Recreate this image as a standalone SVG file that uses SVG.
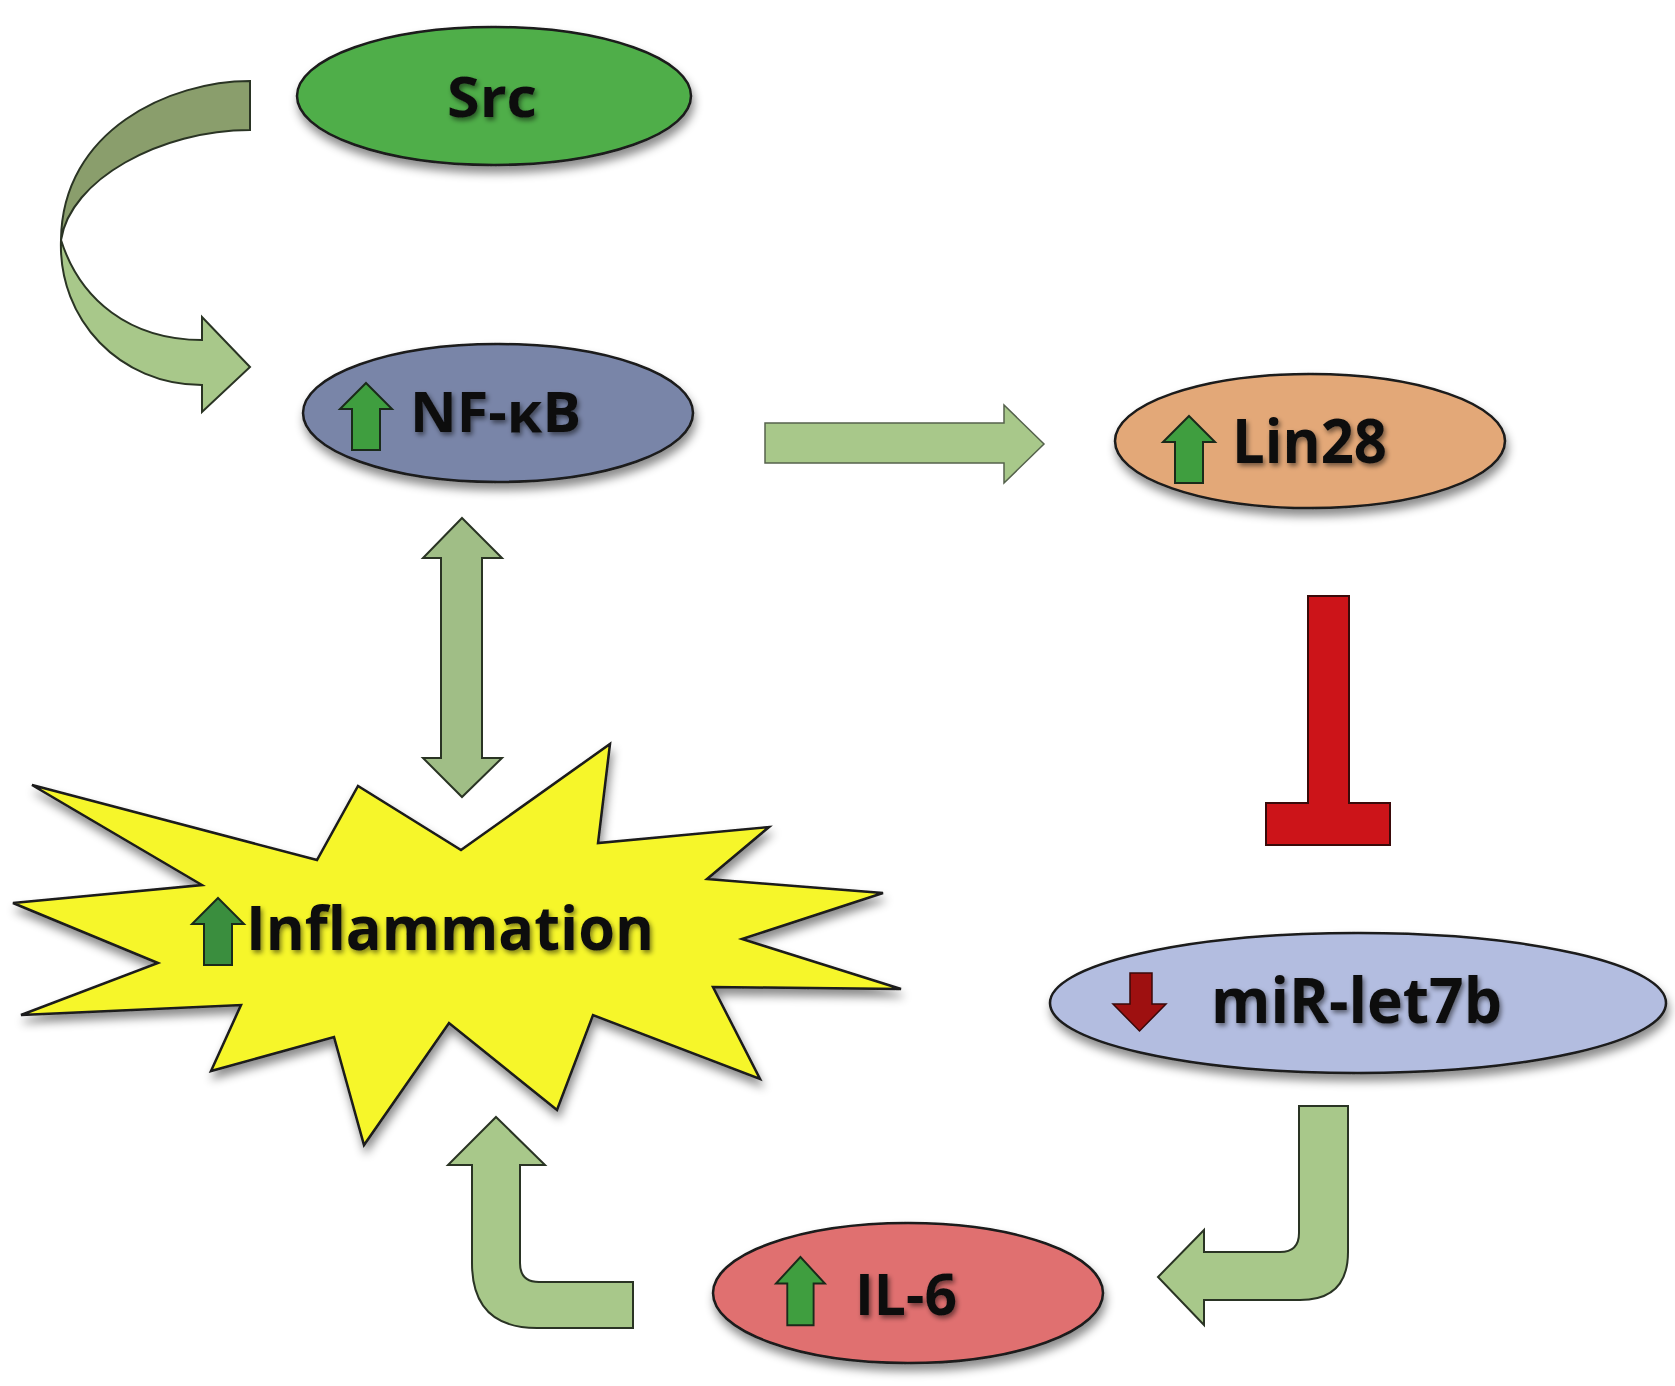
<svg xmlns="http://www.w3.org/2000/svg" xmlns:xlink="http://www.w3.org/1999/xlink" width="1675" height="1386" viewBox="0 0 1675 1386">
<defs>
<style>
.node{stroke:#1a1a1a;stroke-width:2.5}
.lbl{font-family:"Open Sans","Liberation Sans",sans-serif;font-weight:700;fill:#111}
.conn{fill:#a8c88a;stroke:#2a3424;stroke-width:2;stroke-linejoin:miter}
.up{fill:#3f9e3f;stroke:#1a2a1a;stroke-width:2}
</style>
<filter id="sh" x="-20%" y="-20%" width="140%" height="160%">
<feDropShadow dx="2" dy="7" stdDeviation="5" flood-color="#000" flood-opacity="0.45"/>
</filter>
<filter id="ts" x="-10%" y="-20%" width="120%" height="150%">
<feGaussianBlur in="SourceAlpha" stdDeviation="2.5" result="b"/>
<feOffset in="b" dx="2" dy="3" result="o"/>
<feComponentTransfer in="o" result="s"><feFuncA type="linear" slope="0.5"/></feComponentTransfer>
<feMerge><feMergeNode in="s"/><feMergeNode in="SourceGraphic"/></feMerge>
</filter>
<path id="uparrow" d="M26,0 L52,26 L40,26 L40,67 L12,67 L12,26 L0,26 Z"/>
</defs>
<rect width="1675" height="1386" fill="#ffffff"/>

<g id="connectors">
<!-- Src -> NF-kB curved arrow -->
<path class="conn" d="M61,240 C58,320 120,385 202,385 L202,412 L250,367 L202,317 L202,340 C130,340 80,300 61,240 Z" fill="#a9c98b"/>
<path class="conn" d="M250,81 C170,81 62,130 61,240 C70,180 160,130 250,130 Z" style="fill:#8a9e6c"/>
<!-- NF-kB -> Lin28 -->
<path class="conn" d="M765,423 L1004,423 L1004,405 L1044,444 L1004,483 L1004,463 L765,463 Z" style="stroke:#55624c;stroke-width:1.5"/>
<!-- NF-kB <-> Inflammation -->
<path class="conn" d="M462,518 L502,558 L482,558 L482,758 L502,758 L462,797 L423,758 L441,758 L441,558 L423,558 Z" style="fill:#a0be86"/>
<!-- Lin28 -| miR-let7b -->
<path d="M1308,596 L1349,596 L1349,803 L1390,803 L1390,845 L1266,845 L1266,803 L1308,803 Z" fill="#cc1419" stroke="#3a0a0a" stroke-width="2"/>
<!-- miR-let7b -> IL-6 -->
<path class="conn" d="M1299,1106 L1348,1106 L1348,1252 Q1348,1300 1300,1300 L1204,1300 L1204,1325 L1158,1277 L1204,1230 L1204,1252 L1280,1252 Q1299,1252 1299,1233 Z"/>
<!-- IL-6 -> Inflammation -->
<path class="conn" d="M496,1117 L545,1165 L520,1165 L520,1263 Q520,1282 539,1282 L633,1282 L633,1328 L537,1328 Q472,1328 472,1263 L472,1165 L448,1165 Z"/>
</g>

<g id="src">
<ellipse class="node" cx="494" cy="96" rx="197" ry="69" fill="#4fae4a" filter="url(#sh)"/>
<text class="lbl" x="447" y="117" font-size="56" textLength="90" lengthAdjust="spacingAndGlyphs" filter="url(#ts)">Src</text>
</g>

<g id="nfkb">
<ellipse class="node" cx="498" cy="413" rx="195" ry="69" fill="#7985a8" filter="url(#sh)"/>
<use href="#uparrow" class="up" transform="translate(340,383)"/>
<text class="lbl" x="410" y="432" font-size="56" textLength="171" lengthAdjust="spacingAndGlyphs" filter="url(#ts)">NF-κB</text>
</g>

<g id="lin28">
<ellipse class="node" cx="1310" cy="441" rx="195" ry="67" fill="#e3a878" filter="url(#sh)"/>
<use href="#uparrow" class="up" transform="translate(1163,416)"/>
<text class="lbl" x="1232" y="463" font-size="60" textLength="155" lengthAdjust="spacingAndGlyphs" filter="url(#ts)">Lin28</text>
</g>

<g id="inflammation">
<polygon class="node" fill="#f6f62c" filter="url(#sh)" points="32,785 317,860 358,786 461,850 610,744 598,843 769,827 707,879 883,893 742,939 901,989 713,987 760,1079 593,1015 557,1110 449,1023 364,1145 334,1037 211,1071 241,1005 21,1015 158,963 13,903 202,885"/>
<use href="#uparrow" class="up" transform="translate(192,898)" style="fill:#3a8e3e"/>
<text class="lbl" x="246" y="950" font-size="60" textLength="408" lengthAdjust="spacingAndGlyphs" filter="url(#ts)">Inflammation</text>
</g>

<g id="mirlet7b">
<ellipse class="node" cx="1358" cy="1003" rx="308" ry="70" fill="#b3bde0" filter="url(#sh)"/>
<path d="M1130,973 L1152,973 L1152,1004 L1166,1004 L1139.5,1031 L1113,1004 L1130,1004 Z" fill="#9e1010" stroke="#3a0808" stroke-width="1.5"/>
<text class="lbl" x="1211" y="1023" font-size="62" textLength="291" lengthAdjust="spacingAndGlyphs" filter="url(#ts)">miR-let7b</text>
</g>

<g id="il6">
<ellipse class="node" cx="908" cy="1293" rx="195" ry="70" fill="#e07070" filter="url(#sh)"/>
<use href="#uparrow" class="up" transform="translate(776,1257) scale(0.94,1.02)"/>
<text class="lbl" x="855" y="1315" font-size="58" textLength="102" lengthAdjust="spacingAndGlyphs" filter="url(#ts)">IL-6</text>
</g>
</svg>
